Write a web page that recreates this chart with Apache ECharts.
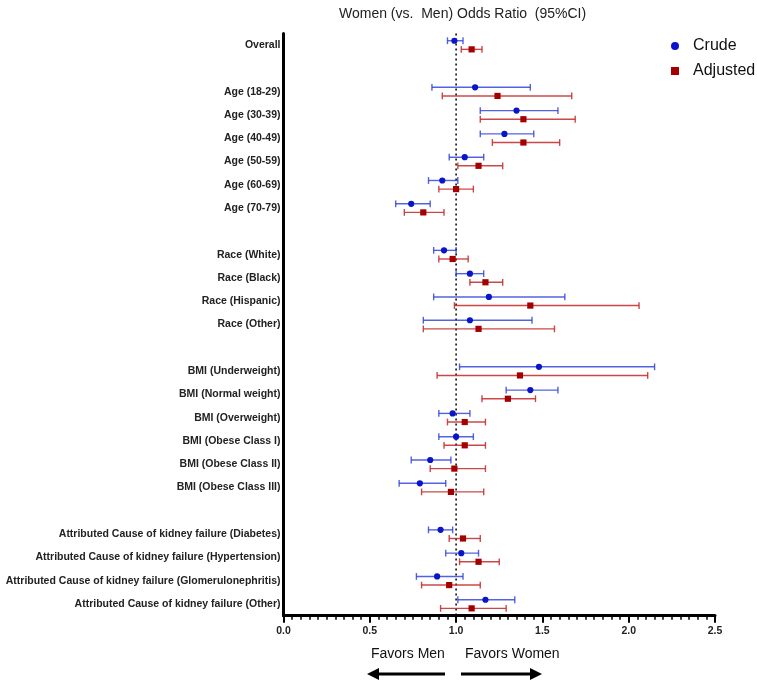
<!DOCTYPE html>
<html>
<head>
<meta charset="utf-8">
<script src="https://cdn.jsdelivr.net/npm/echarts@6/dist/echarts.min.js"></script>
<style>html,body{margin:0;padding:0;background:#fff}#c{width:757px;height:682px}</style>
</head>
<body>
<div id="c"></div>
<script>
const categories = ['Overall', ' ',
  'Age (18-29)', 'Age (30-39)', 'Age (40-49)', 'Age (50-59)', 'Age (60-69)', 'Age (70-79)', '  ',
  'Race (White)', 'Race (Black)', 'Race (Hispanic)', 'Race (Other)', '   ',
  'BMI (Underweight)', 'BMI (Normal weight)', 'BMI (Overweight)', 'BMI (Obese Class I)', 'BMI (Obese Class II)', 'BMI (Obese Class III)', '    ',
  'Attributed Cause of kidney failure (Diabetes)', 'Attributed Cause of kidney failure (Hypertension)',
  'Attributed Cause of kidney failure (Glomerulonephritis)', 'Attributed Cause of kidney failure (Other)'];

const crudeOR   = [0.99, null, 1.11, 1.35, 1.28, 1.05, 0.92, 0.74, null, 0.93, 1.08, 1.19, 1.08, null, 1.48, 1.43, 0.98, 1.00, 0.85, 0.79, null, 0.91, 1.03, 0.89, 1.17];
const crudeLow  = [0.95, null, 0.86, 1.14, 1.14, 0.96, 0.84, 0.65, null, 0.87, 1.00, 0.87, 0.81, null, 1.02, 1.29, 0.90, 0.90, 0.74, 0.67, null, 0.84, 0.94, 0.77, 1.01];
const crudeHigh = [1.04, null, 1.43, 1.59, 1.45, 1.16, 1.01, 0.85, null, 1.00, 1.16, 1.63, 1.44, null, 2.15, 1.59, 1.08, 1.10, 0.97, 0.94, null, 0.98, 1.13, 1.04, 1.34];

const adjOR     = [1.09, null, 1.24, 1.39, 1.39, 1.13, 1.00, 0.81, null, 0.98, 1.17, 1.43, 1.13, null, 1.37, 1.30, 1.05, 1.05, 0.99, 0.97, null, 1.04, 1.13, 0.96, 1.09];
const adjLow    = [1.03, null, 0.92, 1.14, 1.21, 1.01, 0.90, 0.70, null, 0.90, 1.08, 0.99, 0.81, null, 0.89, 1.15, 0.95, 0.93, 0.85, 0.80, null, 0.96, 1.02, 0.80, 0.91];
const adjHigh   = [1.15, null, 1.67, 1.69, 1.60, 1.27, 1.10, 0.93, null, 1.07, 1.27, 2.06, 1.57, null, 2.11, 1.46, 1.17, 1.17, 1.17, 1.16, null, 1.14, 1.25, 1.14, 1.29];

const referenceOR = [1.0];

function build(or, lo, hi) {
  const out = [];
  for (let i = 0; i < categories.length; i++) {
    if (or[i] != null) out.push([lo[i], hi[i], or[i], i]);
  }
  return out;
}

function makeRender(kind, lineColor, markColor) {
  return function (params, api) {
    const yi = api.value(3);
    const pLo = api.coord([api.value(0), yi]);
    const pHi = api.coord([api.value(1), yi]);
    const pPt = api.coord([api.value(2), yi]);
    const band = api.size([0, 1])[1];
    const off = (kind === 'circle' ? -1 : 1) * band * 0.185;
    const y = pPt[1] + off;
    const cap = 3.4;
    const ls = { stroke: lineColor, lineWidth: 1.4 };
    const children = [
      { type: 'line', shape: { x1: pLo[0], y1: y, x2: pHi[0], y2: y }, style: ls },
      { type: 'line', shape: { x1: pLo[0], y1: y - cap, x2: pLo[0], y2: y + cap }, style: ls },
      { type: 'line', shape: { x1: pHi[0], y1: y - cap, x2: pHi[0], y2: y + cap }, style: ls }
    ];
    if (kind === 'circle') {
      children.push({ type: 'circle', shape: { cx: pPt[0], cy: y, r: 3.1 }, style: { fill: markColor } });
    } else {
      children.push({ type: 'rect', shape: { x: pPt[0] - 3.1, y: y - 3.1, width: 6.2, height: 6.2 }, style: { fill: markColor } });
    }
    return { type: 'group', children: children };
  };
}

function renderRefLine(params, api) {
  const cs = params.coordSys;
  const p = api.coord([api.value(0), 0]);
  return {
    type: 'line',
    shape: { x1: p[0], y1: cs.y, x2: p[0], y2: cs.y + cs.height },
    style: { stroke: '#000', lineWidth: 1.5, lineDash: [2, 3] }
  };
}

const chart = echarts.init(document.getElementById('c'), null, { renderer: 'canvas' });
const FONT = 'Liberation Sans, Arial, sans-serif';

chart.setOption({
  backgroundColor: '#ffffff',
  animation: false,
  title: {
    text: 'Women (vs.  Men) Odds Ratio  (95%CI)',
    left: 334, top: 2,
    textStyle: { fontFamily: FONT, fontSize: 14, fontWeight: 'normal', color: '#222' }
  },
  legend: {
    orient: 'vertical',
    left: 666, top: 33,
    itemWidth: 8, itemHeight: 8, itemGap: 9,
    textStyle: { fontFamily: FONT, fontSize: 16, color: '#111', padding: [0, 0, 0, 9] },
    data: [{ name: 'Crude', icon: 'circle' }, { name: 'Adjusted', icon: 'rect' }]
  },
  grid: { left: 283.5, right: 42, top: 33.4, bottom: 66.3, containLabel: false },
  xAxis: {
    type: 'value', min: 0, max: 2.5, interval: 0.5,
    axisLine: { show: true, lineStyle: { color: '#000', width: 3 } },
    axisTick: { show: true, length: 7, lineStyle: { color: '#000', width: 2 } },
    minorTick: { show: true, splitNumber: 10, length: 4, lineStyle: { color: '#000', width: 1.5 } },
    splitLine: { show: false },
    axisLabel: {
      margin: 10, fontFamily: FONT, fontSize: 10.5, fontWeight: 'bold', color: '#222',
      formatter: v => v.toFixed(1)
    }
  },
  yAxis: {
    type: 'category', data: categories, inverse: true,
    axisLine: { show: true, lineStyle: { color: '#000', width: 3 } },
    axisTick: { show: false },
    splitLine: { show: false },
    axisLabel: { margin: 3, fontFamily: FONT, fontSize: 10.5, fontWeight: 'bold', color: '#222', interval: 0 }
  },
  series: [
    {
      name: 'ref', type: 'custom', silent: true,
      renderItem: renderRefLine,
      encode: { x: 0, y: 1 },
      data: referenceOR.map(v => [v, 0]),
      z: 1
    },
    {
      name: 'Crude', type: 'custom',
      itemStyle: { color: '#0a14c8' },
      renderItem: makeRender('circle', 'rgba(40,60,215,0.8)', '#0a14c8'),
      encode: { x: 0, y: 3 },
      data: build(crudeOR, crudeLow, crudeHigh),
      z: 3
    },
    {
      name: 'Adjusted', type: 'custom',
      itemStyle: { color: '#a50000' },
      renderItem: makeRender('rect', 'rgba(195,40,40,0.85)', '#a50000'),
      encode: { x: 0, y: 3 },
      data: build(adjOR, adjLow, adjHigh),
      z: 3
    }
  ],
  graphic: [
    { type: 'text', left: 371, top: 647, style: { text: 'Favors Men', fontFamily: FONT, fontSize: 14, fill: '#111' } },
    { type: 'text', left: 465, top: 647, style: { text: 'Favors Women', fontFamily: FONT, fontSize: 14, fill: '#111' } },
    { type: 'line', shape: { x1: 445, y1: 674, x2: 376, y2: 674 }, style: { stroke: '#000', lineWidth: 3 } },
    { type: 'polygon', shape: { points: [[367, 674], [379, 668], [379, 680]] }, style: { fill: '#000' } },
    { type: 'line', shape: { x1: 461, y1: 674, x2: 533, y2: 674 }, style: { stroke: '#000', lineWidth: 3 } },
    { type: 'polygon', shape: { points: [[542, 674], [530, 668], [530, 680]] }, style: { fill: '#000' } }
  ]
});
</script>
</body>
</html>
